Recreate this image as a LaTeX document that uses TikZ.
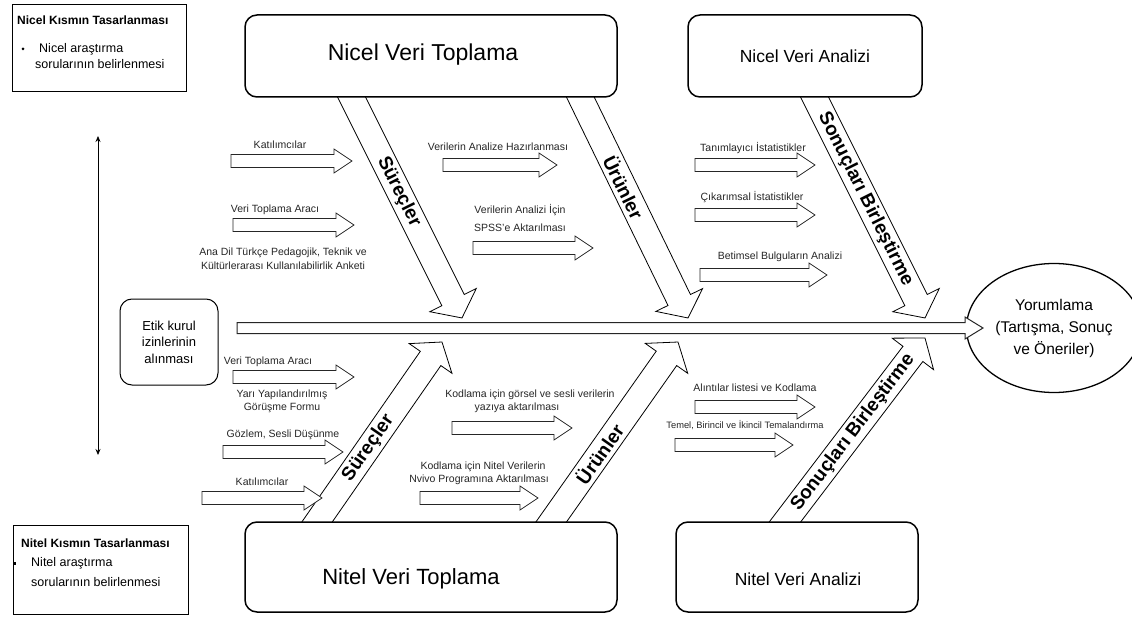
\documentclass[tikz,border=0pt]{standalone}
\usepackage{fontspec}
\setmainfont{Liberation Sans}
\usetikzlibrary{shapes.geometric,arrows.meta}

% Block arrow from (#2,#3) to (#4,#5): half shaft #6, half head #7, head length #8, style #1
\newcommand\blockarrow[8]{%
  \pgfmathsetmacro\baang{atan2(-(#5-#3),#4-#2)}%
  \pgfmathsetmacro\balen{veclen(#4-#2,#5-#3)}%
  \pgfmathsetmacro\baneck{\balen-#8}%
  \begin{scope}[shift={(#2,#3)}, rotate=\baang]
    \draw[#1] (0pt,#6pt) -- (\baneck pt,#6pt) -- (\baneck pt,#7pt) -- (\balen pt,0pt)
      -- (\baneck pt,-#7pt) -- (\baneck pt,-#6pt) -- (0pt,-#6pt) -- cycle;
  \end{scope}}

% Branch of the fishbone: name, x1, y1, x2, y2, text position (fraction), text
\newcommand\branch[7]{%
  \blockarrow{branchline}{#2}{#3}{#4}{#5}{12.5}{26}{20}%
  \pgfmathsetmacro\bapos{#6*\balen}%
  \begin{scope}[shift={(#2,#3)}, rotate=\baang]
    \node[branchtext, rotate=\baang] (#1) at (\bapos pt,0pt) {#7};
  \end{scope}}

% Small input arrow: tail x, tip x, y
\newcommand\inarrow[3]{\blockarrow{inline}{#1}{#3}{#2}{#3}{6.5}{12}{18}}

\begin{document}
\begin{tikzpicture}[x=1pt,y=-1pt,
  lbl/.style={font=\fontsize{10.5}{12}\selectfont, text=black!85, inner sep=0pt},
  inline/.style={draw=black!85, line width=0.8pt, fill=white},
  branchline/.style={draw=black, line width=0.8pt, fill=white},
  branchtext/.style={font=\fontsize{19}{19}\selectfont\bfseries, inner sep=0pt},
  spineline/.style={draw=black!85, line width=1pt, fill=white},
  stage/.style={draw, line width=1.5pt, rounded corners=12pt, fill=white},
  design/.style={draw, line width=1pt, inner sep=0pt, anchor=north west},
  designtitle/.style={font=\fontsize{12}{14}\selectfont\bfseries, inner sep=0pt, anchor=west},
  designtext/.style={font=\fontsize{12.5}{14}\selectfont, inner sep=0pt, anchor=west},
]
\useasboundingbox (0,0) rectangle (1132,628);

% ---------- design boxes ----------
\node[design, minimum width=174pt, minimum height=87pt] (nicelbox) at (12,4) {};
\node[designtitle] (niceltitle) at (17,20) {Nicel Kısmın Tasarlanması};
\node[fill=black, circle, inner sep=0pt, minimum size=3pt] (nicelbullet) at (23,49) {};
\node[designtext] (nicelq1) at (39,49) {Nicel araştırma};
\node[designtext] (nicelq2) at (35,64) {sorularının belirlenmesi};

\node[design, minimum width=175pt, minimum height=89pt] (nitelbox) at (13,525) {};
\node[designtitle] (niteltitle) at (21,543) {Nitel Kısmın Tasarlanması};
\node[fill=black, inner sep=0pt, minimum size=3pt] (nitelbullet) at (14,563) {};
\node[designtext] (nitelq1) at (31,563) {Nitel araştırma};
\node[designtext] (nitelq2) at (31,582) {sorularının belirlenmesi};

% ---------- vertical double arrow ----------
\coordinate (vtop) at (98,136);
\coordinate (vbot) at (98,455);
\draw[{Stealth[length=6pt,width=5pt]}-{Stealth[length=6pt,width=5pt]}, line width=0.8pt] (vtop) -- (vbot);

% ---------- start, spine and result ----------
\node[draw, line width=1pt, rounded corners=12pt, minimum width=98pt, minimum height=86pt,
      align=center, font=\fontsize{13}{16.5}\selectfont] (etik) at (169,342)
      {Etik kurul\\izinlerinin\\alınması};
\node[ellipse, draw, line width=1.3pt, minimum width=141pt, minimum height=129pt,
      align=center, font=\fontsize{15.5}{22}\selectfont] (yorum) at (1054,328)
      {Yorumlama\\(Tartışma, Sonuç\\ve Öneriler)};
\coordinate (spinetail) at (237,328);
\coordinate (spinetip) at (yorum.west);
\blockarrow{spineline}{237}{328}{983}{328}{5.5}{11}{18}

% ---------- branches ----------
\branch{s1}{343}{80}{462}{318}{0.47}{Süreçler}
\branch{u1}{572}{80}{688}{318}{0.45}{Ürünler}
\branch{b1}{806}{80}{925}{318}{0.5}{Sonuçları Birleştirme}
\branch{s2}{308}{535}{442}{342}{0.45}{Süreçler}
\branch{u2}{542}{535}{678}{342}{0.42}{Ürünler}
\branch{b2}{775}{535}{925}{338}{0.52}{Sonuçları Birleştirme}

% ---------- stage boxes ----------
\node[stage, minimum width=372pt, minimum height=82pt] (nvt) at (431,56) {};
\node[font=\fontsize{23}{25}\selectfont] (nvtt) at (423,55) {Nicel Veri Toplama};
\node[stage, minimum width=234pt, minimum height=82pt, font=\fontsize{17.5}{20}\selectfont] (nva) at (805,56) {Nicel Veri Analizi};
\node[stage, minimum width=372pt, minimum height=90pt] (lvt) at (431,567) {};
\node[font=\fontsize{22}{24}\selectfont] (lvtt) at (411,579) {Nitel Veri Toplama};
\node[stage, minimum width=242pt, minimum height=90pt] (lva) at (797,567) {};
\node[font=\fontsize{17.5}{20}\selectfont] (lvat) at (798,579) {Nitel Veri Analizi};

% ---------- upper inputs ----------
\inarrow{231}{352}{161}
\node[lbl] (a1) at (280,145) {Katılımcılar};
\inarrow{233}{354}{225}
\node[lbl] (a2) at (275,210) {Veri Toplama Aracı};
\node[lbl] (a2a) at (283,253) {Ana Dil Türkçe Pedagojik, Teknik ve};
\node[lbl] (a2b) at (283,266) {Kültürlerarası Kullanılabilirlik Anketi};

\inarrow{443}{557}{165}
\node[lbl] (a3) at (498,147) {Verilerin Analize Hazırlanması};
\inarrow{473}{593}{248}
\node[lbl] (a4a) at (520,210) {Verilerin Analizi İçin};
\node[lbl] (a4b) at (520,228) {SPSS'e Aktarılması};

\inarrow{695}{815}{165}
\node[lbl] (a5) at (753,148) {Tanımlayıcı İstatistikler};
\inarrow{695}{815}{215}
\node[lbl] (a6) at (752,197) {Çıkarımsal İstatistikler};
\inarrow{700}{827}{275}
\node[lbl] (a7) at (780,257) {Betimsel Bulguların Analizi};

% ---------- lower inputs ----------
\inarrow{233}{354}{377}
\node[lbl] (c1) at (268,362) {Veri Toplama Aracı};
\node[lbl] (c1a) at (282,395) {Yarı Yapılandırılmış};
\node[lbl] (c1b) at (282,408) {Görüşme Formu};
\inarrow{223}{343}{452}
\node[lbl] (c2) at (283,435) {Gözlem, Sesli Düşünme};
\inarrow{202}{322}{498}
\node[lbl] (c3) at (262,482) {Katılımcılar};

\inarrow{452}{572}{428}
\node[lbl] (c4a) at (530,395) {Kodlama için görsel ve sesli verilerin};
\node[lbl] (c4b) at (517,408) {yazıya aktarılması};
\inarrow{420}{538}{498}
\node[lbl] (c5a) at (483,467) {Kodlama için Nitel Verilerin};
\node[lbl] (c5b) at (479,480) {Nvivo Programına Aktarılması};

\inarrow{695}{815}{407}
\node[lbl] (c6) at (755,388) {Alıntılar listesi ve Kodlama};
\inarrow{675}{793}{445}
\node[lbl, font=\fontsize{9.3}{11}\selectfont] (c7) at (745,425) {Temel, Birincil ve İkincil Temalandırma};
\end{tikzpicture}
\end{document}
